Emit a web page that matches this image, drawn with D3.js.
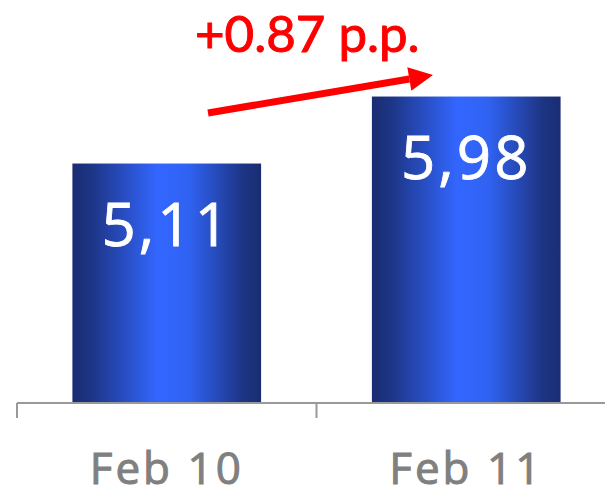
<!DOCTYPE html>
<html>
<head>
<meta charset="utf-8">
<script src="https://cdn.jsdelivr.net/npm/d3@7"></script>
<style>
  html, body { margin: 0; padding: 0; background: #fff; }
  svg { display: block; }
</style>
</head>
<body>
<div id="chart"></div>
<script>
var categories = ['Feb 10', 'Feb 11']
var values = [5.11, 5.98]
var valueLabels = ['5,11', '5,98']
var changeLabel = '+0.87 p.p.'

var w = 605
var h = 496

var svg = d3.select('#chart')
  .append('svg')
  .attr('width', w)
  .attr('height', h)

// horizontal gradient: dark edges, bright middle
var defs = svg.append('defs')
var grad = defs.append('linearGradient')
  .attr('id', 'barGrad')
  .attr('x1', '0%').attr('x2', '100%')
  .attr('y1', '0%').attr('y2', '0%')
grad.append('stop').attr('offset', '0%').attr('stop-color', '#1a2d72')
grad.append('stop').attr('offset', '10%').attr('stop-color', '#1d3585')
grad.append('stop').attr('offset', '45%').attr('stop-color', '#3366ff')
grad.append('stop').attr('offset', '62%').attr('stop-color', '#3062f2')
grad.append('stop').attr('offset', '90%').attr('stop-color', '#1d3585')
grad.append('stop').attr('offset', '100%').attr('stop-color', '#1a2d72')

var x = d3.scaleBand()
  .domain(categories)
  .range([17, 616])

var y = d3.scaleLinear()
  .domain([2, 6.5])
  .range([403, 56.5])

var barW = x.bandwidth() * 0.63
var barOff = (x.bandwidth() - barW) / 2

// bars
svg.selectAll('.bar')
  .data(values)
  .enter().append('rect')
  .attr('class', 'bar')
  .attr('x', function(d, i) { return x(categories[i]) + barOff })
  .attr('y', function(d) { return y(d) })
  .attr('width', barW)
  .attr('height', function(d) { return y(2) - y(d) })
  .style('fill', 'url(#barGrad)')

// value labels inside bars
svg.selectAll('.val')
  .data(values)
  .enter().append('text')
  .attr('class', 'val')
  .attr('x', function(d, i) { return x(categories[i]) + x.bandwidth() / 2 })
  .attr('y', function(d) { return y(d) + 82 })
  .attr('text-anchor', 'middle')
  .style('font-family', '"Open Sans", sans-serif')
  .style('font-size', '60px')
  .style('letter-spacing', '3px')
  .style('fill', '#fff')
  .style('stroke', '#fff')
  .style('stroke-width', 0.8)
  .text(function(d, i) { return valueLabels[i] })

// axis line + ticks at band edges
var axisY = y(2)
var axis = svg.append('g').attr('class', 'axis')
axis.append('line')
  .attr('x1', x.range()[0]).attr('x2', x.range()[1])
  .attr('y1', axisY).attr('y2', axisY)
  .style('stroke', '#999').style('stroke-width', 2)
var edges = categories.map(function(c) { return x(c) }).concat([x(categories[categories.length - 1]) + x.bandwidth()])
axis.selectAll('.tick')
  .data(edges)
  .enter().append('line')
  .attr('class', 'tick')
  .attr('x1', function(d) { return d }).attr('x2', function(d) { return d })
  .attr('y1', axisY).attr('y2', axisY + 15)
  .style('stroke', '#999').style('stroke-width', 2)

// category labels
svg.selectAll('.cat')
  .data(categories)
  .enter().append('text')
  .attr('class', 'cat')
  .attr('x', function(d) { return x(d) + x.bandwidth() / 2 })
  .attr('y', 484)
  .attr('text-anchor', 'middle')
  .style('font-family', '"Open Sans", sans-serif')
  .style('font-size', '44px')
  .style('letter-spacing', '3px')
  .style('fill', '#808080')
  .style('stroke', '#808080')
  .style('stroke-width', 1)
  .text(function(d) { return d })

// change annotation
svg.append('text')
  .attr('x', 195)
  .attr('y', 52)
  .style('font-family', 'Lato, sans-serif')
  .style('font-size', '51px')
  .style('fill', '#ff0000')
  .style('stroke', '#ff0000')
  .style('stroke-width', 1)
  .text(changeLabel)

var ax1 = 208, ay1 = 113, ax2 = 433, ay2 = 75
var ang = Math.atan2(ay2 - ay1, ax2 - ax1)
var headL = 24, headW = 12
var bx = ax2 - headL * Math.cos(ang), by = ay2 - headL * Math.sin(ang)
svg.append('line')
  .attr('x1', ax1).attr('y1', ay1)
  .attr('x2', bx).attr('y2', by)
  .style('stroke', '#ff0000').style('stroke-width', 7)
svg.append('path')
  .attr('d', 'M' + ax2 + ',' + ay2 +
    'L' + (bx + headW * Math.sin(ang)) + ',' + (by - headW * Math.cos(ang)) +
    'L' + (bx - headW * Math.sin(ang)) + ',' + (by + headW * Math.cos(ang)) + 'Z')
  .style('fill', '#ff0000')
</script>
</body>
</html>
